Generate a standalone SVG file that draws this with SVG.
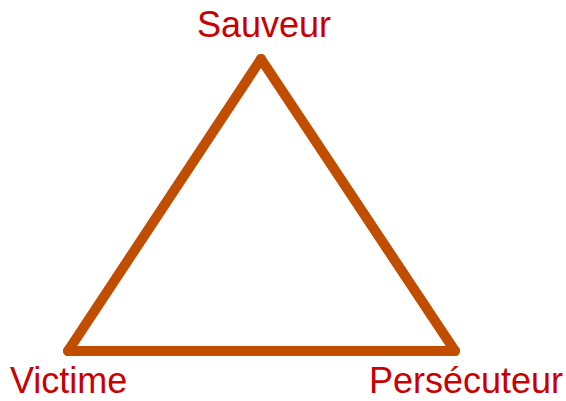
<svg xmlns="http://www.w3.org/2000/svg" width="566" height="401" viewBox="0 0 566 401">
<style>
.lbl{font-family:"Liberation Sans",Arial,Helvetica,sans-serif;font-size:36px;fill:#C80000}
.edge{fill:none;stroke:#C14E00;stroke-width:10;stroke-linejoin:round;stroke-linecap:round}
</style>
<rect width="566" height="401" fill="#fff"/>
<g id="connectors">
<path class="edge" d="M261,59 L455,351"/>
<path class="edge" d="M455,351 L68,351"/>
<path class="edge" d="M68,351 L261,59"/>
</g>
<g id="sauveur"><text class="lbl" x="264" y="37" text-anchor="middle">Sauveur</text></g>
<g id="victime"><text class="lbl" x="10" y="392.5">Victime</text></g>
<g id="persecuteur"><text class="lbl" x="369" y="392.5">Persécuteur</text></g>
</svg>
